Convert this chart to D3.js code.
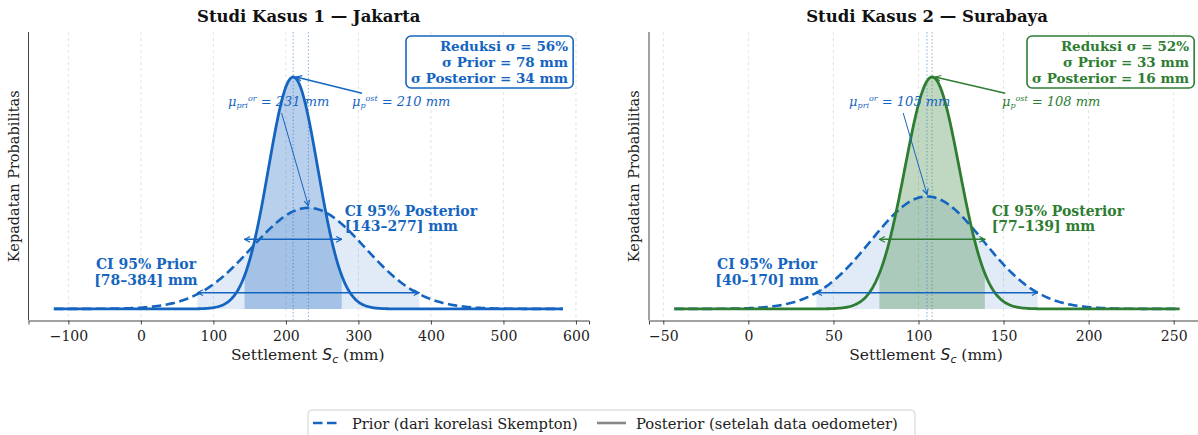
<!DOCTYPE html>
<html>
<head>
<meta charset="utf-8">
<script src="https://cdn.jsdelivr.net/npm/d3@7"></script>
<style>
  body { margin: 0; background: #fff; }
  text { font-family: "DejaVu Serif", serif; }
</style>
</head>
<body>
<div id="chart"></div>
<script>
// data
const titles = ["Studi Kasus 1 — Jakarta", "Studi Kasus 2 — Surabaya"];
const priorMean = [231, 105];
const priorSd = [78, 33];
const postMean = [210, 108];
const postSd = [34, 16];
const priorCI = [[78, 384], [40, 170]];
const postCI = [[143, 277], [77, 139]];
const reduksi = [56, 52];
const xDomains = [[-155, 618], [-58.4, 268.4]];
const xTicks = [[-100, 0, 100, 200, 300, 400, 500, 600], [-50, 0, 50, 100, 150, 200, 250]];
const postColors = ["#1565c0", "#2e7d32"];
const PRIOR_COLOR = "#1565c0";

// layout
const W = 1198, H = 435;
const PANELS = [
  {left: 28.5, right: 589, boxPad: 21, priorTxt: 190, priorArrow: 194, postTxt: 359, postArrow: 305, ciPrior: 7, ciPost: 281},
  {left: 649, right: 1205, boxPad: 16, priorTxt: 89, priorArrow: 91, postTxt: 178, postArrow: 151, ciPrior: 11, ciPost: 143}
];
const TOP = 32, BOTTOM = 320.5;

const svg = d3.select("#chart").append("svg")
  .attr("width", W).attr("height", H);

function pdf(x, m, s) {
  return Math.exp(-0.5 * ((x - m) / s) ** 2) / (s * Math.sqrt(2 * Math.PI));
}

// arrow heads
const defs = svg.append("defs");
["#1565c0", "#2e7d32"].forEach((c, i) => {
  defs.append("marker").attr("id", "head" + i)
    .attr("viewBox", "0 0 10 10").attr("refX", 9).attr("refY", 5)
    .attr("markerWidth", 7).attr("markerHeight", 7).attr("orient", "auto-start-reverse")
    .attr("markerUnits", "userSpaceOnUse")
    .append("path").attr("d", "M1,1 L9,5 L1,9").attr("fill", "none")
    .attr("stroke", c).attr("stroke-width", 1.6);
});

PANELS.forEach((P, i) => {
  const g = svg.append("g");
  const pk = pdf(postMean[i], postMean[i], postSd[i]);
  const x = d3.scaleLinear().domain(xDomains[i]).range([P.left, P.right]);
  const y = d3.scaleLinear().domain([-0.05 * pk, 1.194 * pk]).range([BOTTOM, TOP]);
  const pc = postColors[i];
  const headPrior = "url(#head0)";
  const headPost = "url(#head" + i + ")";

  const clipId = "clip" + i;
  defs.append("clipPath").attr("id", clipId).append("rect")
    .attr("x", P.left).attr("y", TOP).attr("width", P.right - P.left).attr("height", BOTTOM - TOP);
  const plot = g.append("g").attr("clip-path", "url(#" + clipId + ")");

  // grid
  plot.selectAll(".grid").data(xTicks[i]).join("line")
    .attr("x1", d => x(d)).attr("x2", d => x(d))
    .attr("y1", TOP).attr("y2", BOTTOM)
    .attr("stroke", "#dcdcdc").attr("stroke-width", 0.8).attr("stroke-dasharray", "3,3");

  const lo = priorMean[i] - 4.5 * priorSd[i], hi = priorMean[i] + 4.5 * priorSd[i];
  const xs = d3.range(0, 501).map(k => lo + (hi - lo) * k / 500);

  // fills
  const priorFillXs = xs.filter(v => v >= priorCI[i][0] && v <= priorCI[i][1]);
  priorFillXs.unshift(priorCI[i][0]); priorFillXs.push(priorCI[i][1]);
  plot.append("path")
    .attr("d", d3.area().x(v => x(v)).y0(y(0)).y1(v => y(pdf(v, priorMean[i], priorSd[i])))(priorFillXs))
    .attr("fill", PRIOR_COLOR).attr("fill-opacity", 0.13);
  const postFillXs = xs.filter(v => v >= postCI[i][0] && v <= postCI[i][1]);
  postFillXs.unshift(postCI[i][0]); postFillXs.push(postCI[i][1]);
  plot.append("path")
    .attr("d", d3.area().x(v => x(v)).y0(y(0)).y1(v => y(pdf(v, postMean[i], postSd[i])))(postFillXs))
    .attr("fill", pc).attr("fill-opacity", 0.3);

  // mean lines
  [[priorMean[i], PRIOR_COLOR], [postMean[i], pc]].forEach(([m, c]) => {
    plot.append("line").attr("x1", x(m)).attr("x2", x(m)).attr("y1", TOP).attr("y2", BOTTOM)
      .attr("stroke", c).attr("stroke-opacity", 0.5).attr("stroke-width", 1).attr("stroke-dasharray", "1.5,2");
  });

  // curves
  plot.append("path")
    .attr("d", d3.line().x(v => x(v)).y(v => y(pdf(v, priorMean[i], priorSd[i])))(xs))
    .attr("fill", "none").attr("stroke", PRIOR_COLOR).attr("stroke-width", 2.6)
    .attr("stroke-dasharray", "9.5,4.5");
  plot.append("path")
    .attr("d", d3.line().x(v => x(v)).y(v => y(pdf(v, postMean[i], postSd[i])))(xs))
    .attr("fill", "none").attr("stroke", pc).attr("stroke-width", 2.8);

  // CI double arrows
  g.append("line").attr("x1", x(priorCI[i][0])).attr("x2", x(priorCI[i][1]))
    .attr("y1", y(0.07 * pk)).attr("y2", y(0.07 * pk))
    .attr("stroke", PRIOR_COLOR).attr("stroke-width", 1.5)
    .attr("marker-start", headPrior).attr("marker-end", headPrior);
  g.append("line").attr("x1", x(postCI[i][0])).attr("x2", x(postCI[i][1]))
    .attr("y1", y(0.3 * pk)).attr("y2", y(0.3 * pk))
    .attr("stroke", pc).attr("stroke-width", 1.5)
    .attr("marker-start", headPost).attr("marker-end", headPost);

  // CI labels
  const ciP = g.append("text").attr("text-anchor", "middle").attr("fill", PRIOR_COLOR)
    .attr("font-weight", "bold").attr("font-size", 14);
  ciP.append("tspan").attr("x", x(P.ciPrior)).attr("y", y(0.172 * pk)).text("CI 95% Prior");
  ciP.append("tspan").attr("x", x(P.ciPrior)).attr("y", y(0.103 * pk))
    .text(`[${priorCI[i][0]}–${priorCI[i][1]}] mm`);
  const ciQ = g.append("text").attr("text-anchor", "start").attr("fill", pc)
    .attr("font-weight", "bold").attr("font-size", 14);
  ciQ.append("tspan").attr("x", x(P.ciPost)).attr("y", y(0.40 * pk)).text("CI 95% Posterior");
  ciQ.append("tspan").attr("x", x(P.ciPost)).attr("y", y(0.336 * pk))
    .text(`[${postCI[i][0]}–${postCI[i][1]}] mm`);

  // mean annotations
  function muLabel(cx, sub, sup, val, color) {
    const t = g.append("text").attr("x", x(cx)).attr("y", y(0.875 * pk))
      .attr("text-anchor", "middle").attr("fill", color)
      .attr("font-style", "italic").attr("font-size", 13);
    t.append("tspan").text("μ");
    t.append("tspan").attr("font-size", 8).attr("dy", 2).text(sub);
    t.append("tspan").attr("font-size", 8).attr("dy", -7).text(sup);
    t.append("tspan").attr("dy", 5).text(` = ${val} mm`);
  }
  muLabel(P.priorTxt, "pri", "or", priorMean[i], PRIOR_COLOR);
  muLabel(P.postTxt, "p", "ost", postMean[i], pc);

  const pPk = pdf(priorMean[i], priorMean[i], priorSd[i]);
  g.append("line").attr("x1", x(P.priorArrow)).attr("y1", y(0.845 * pk))
    .attr("x2", x(priorMean[i])).attr("y2", y(pPk) - 2)
    .attr("stroke", PRIOR_COLOR).attr("stroke-width", 1).attr("marker-end", headPrior);
  g.append("line").attr("x1", x(P.postArrow)).attr("y1", y(0.93 * pk))
    .attr("x2", x(postMean[i]) + 3).attr("y2", y(pk))
    .attr("stroke", pc).attr("stroke-width", 1.4).attr("marker-end", headPost);

  // info box
  const info = g.append("text").attr("text-anchor", "end").attr("fill", pc)
    .attr("font-weight", "bold").attr("font-size", 13.5);
  const bx = P.right - P.boxPad;
  [`Reduksi σ = ${reduksi[i]}%`, `σ Prior = ${priorSd[i]} mm`, `σ Posterior = ${postSd[i]} mm`]
    .forEach((s, k) => info.append("tspan").attr("x", bx).attr("y", 51 + k * 16).text(s));
  const bb = info.node().getBBox();
  g.insert("rect", "text").attr("x", bb.x - 5).attr("y", 36).attr("width", bb.width + 10).attr("height", 52)
    .attr("rx", 5).attr("fill", "#fff").attr("stroke", pc).attr("stroke-width", 1.6);

  // axes
  const xAxis = g.append("g").attr("transform", `translate(0,${BOTTOM})`)
    .call(d3.axisBottom(x).tickValues(xTicks[i]).tickSize(4).tickFormat(d => d < 0 ? "−" + (-d) : d));
  xAxis.select(".domain").attr("stroke", "#444").attr("stroke-width", 1);
  xAxis.selectAll(".tick line").attr("stroke", "#444");
  xAxis.selectAll(".tick text").attr("font-size", 14).attr("fill", "#222")
    .attr("font-family", "DejaVu Serif").attr("dy", "0.95em");
  g.append("line").attr("x1", P.left).attr("x2", P.left).attr("y1", TOP).attr("y2", BOTTOM)
    .attr("stroke", "#444").attr("stroke-width", 1);

  const xl = g.append("text").attr("x", (P.left + P.right) / 2 - 1).attr("y", 360)
    .attr("text-anchor", "middle").attr("font-size", 15.5).attr("fill", "#222");
  xl.append("tspan").text("Settlement ");
  xl.append("tspan").attr("font-style", "italic").attr("font-family", "DejaVu Sans").text("S");
  xl.append("tspan").attr("font-style", "italic").attr("font-family", "DejaVu Sans")
    .attr("font-size", 11).attr("dy", 3).text("c");
  xl.append("tspan").attr("dy", -3).text(" (mm)");

  g.append("text").attr("transform", `translate(${P.left - 10},${(TOP + BOTTOM) / 2}) rotate(-90)`)
    .attr("text-anchor", "middle").attr("font-size", 14.5).attr("fill", "#222")
    .text("Kepadatan Probabilitas");

  g.append("text").attr("x", (P.left + P.right) / 2).attr("y", 22)
    .attr("text-anchor", "middle").attr("font-size", 16.5).attr("font-weight", "bold")
    .attr("fill", "#111").text(titles[i]);
});

// legend
const lg = svg.append("g");
lg.append("rect").attr("x", 308).attr("y", 410).attr("width", 607).attr("height", 34)
  .attr("rx", 4).attr("fill", "#fff").attr("stroke", "#d0d0d0");
lg.append("line").attr("x1", 313).attr("x2", 340).attr("y1", 423).attr("y2", 423)
  .attr("stroke", PRIOR_COLOR).attr("stroke-width", 2.6).attr("stroke-dasharray", "9.5,4.5");
lg.append("text").attr("x", 352).attr("y", 428.5).attr("font-size", 14.6).attr("fill", "#222")
  .text("Prior (dari korelasi Skempton)");
lg.append("line").attr("x1", 597).attr("x2", 626).attr("y1", 423).attr("y2", 423)
  .attr("stroke", "#888").attr("stroke-width", 2.6);
lg.append("text").attr("x", 636).attr("y", 428.5).attr("font-size", 14.8).attr("fill", "#222")
  .text("Posterior (setelah data oedometer)");
</script>
</body>
</html>
